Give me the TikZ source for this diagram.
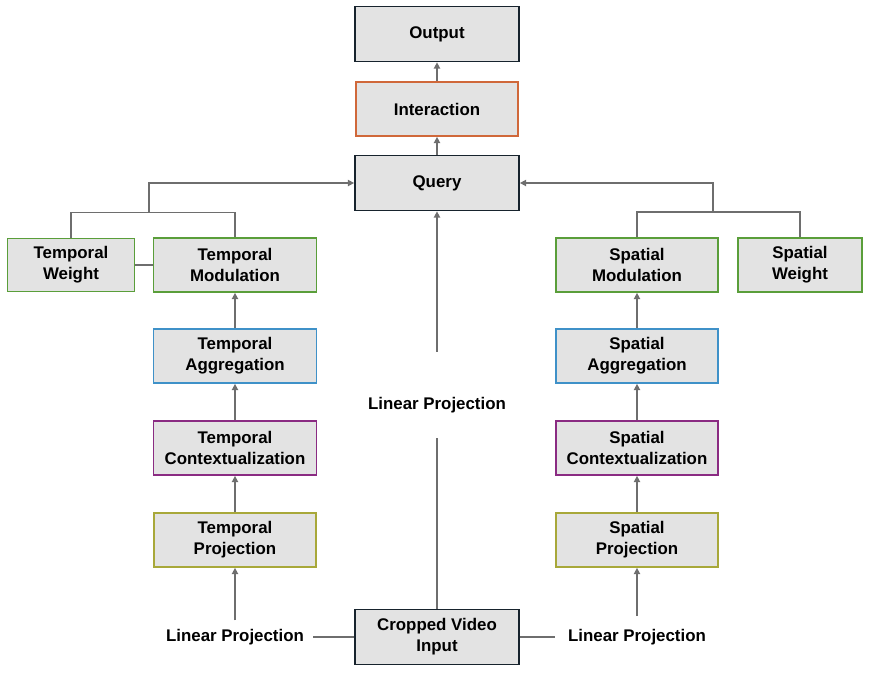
\documentclass[tikz,border=0pt]{standalone}
\usepackage{fontspec}
\setmainfont{Liberation Sans}
\usepackage{xcolor}
\definecolor{boxfill}{HTML}{E3E3E3}
\definecolor{boxdark}{HTML}{17232D}
\definecolor{boxgreen}{HTML}{5A9E3A}
\definecolor{boxblue}{HTML}{3F91C8}
\definecolor{boxpurple}{HTML}{8A2B82}
\definecolor{boxolive}{HTML}{A8A83A}
\definecolor{boxorange}{HTML}{D0683A}
\definecolor{linegray}{HTML}{6E6E6E}
\usetikzlibrary{arrows.meta,positioning}

\begin{document}
\begin{tikzpicture}[x=0.025cm,y=-0.025cm,
  block/.style={draw=boxdark, fill=boxfill, line width=1.2pt,
                minimum width=4.1cm, minimum height=1.375cm,
                align=center, font=\fontsize{12}{15}\selectfont\bfseries},
  plain/.style={font=\fontsize{12}{15}\selectfont\bfseries, inner sep=6pt},
  line/.style={draw=linegray, line width=1pt},
  conn/.style={line, -{Triangle[length=4.5pt,width=4.5pt]}}
]
  \useasboundingbox (0,0) rectangle (869,672);

  \node[block] (output) at (437,34) {Output};
  \node[block,draw=boxorange,minimum width=4.05cm,minimum height=1.35cm]
    (inter) at (437,109) {Interaction};
  \node[block] (query) at (437,183) {Query};

  % temporal branch
  \node[block,draw=boxgreen,minimum width=3.175cm,minimum height=1.33cm]
    (tw) at (71,265) {Temporal\\Weight};
  \node[block,draw=boxgreen,minimum width=4.075cm,minimum height=1.35cm]
    (tm) at (235,265) {Temporal\\Modulation};
  \node[block,draw=boxblue,minimum width=4.075cm,minimum height=1.35cm]
    (ta) at (235,356) {Temporal\\Aggregation};
  \node[block,draw=boxpurple,minimum width=4.075cm,minimum height=1.35cm]
    (tc) at (235,448) {Temporal\\Contextualization};
  \node[block,draw=boxolive,minimum width=4.05cm,minimum height=1.35cm]
    (tp) at (235,540) {Temporal\\Projection};
  \node[plain] (lpl) at (235,637) {Linear Projection};

  % spatial branch
  \node[block,draw=boxgreen,minimum width=4.05cm,minimum height=1.35cm]
    (sm) at (637,265) {Spatial\\Modulation};
  \node[block,draw=boxgreen,minimum width=3.1cm,minimum height=1.35cm]
    (sw) at (800,265) {Spatial\\Weight};
  \node[block,draw=boxblue,minimum width=4.05cm,minimum height=1.35cm]
    (sa) at (637,356) {Spatial\\Aggregation};
  \node[block,draw=boxpurple,minimum width=4.05cm,minimum height=1.35cm]
    (sc) at (637,448) {Spatial\\Contextualization};
  \node[block,draw=boxolive,minimum width=4.05cm,minimum height=1.35cm]
    (sp) at (637,540) {Spatial\\Projection};
  \node[plain,inner sep=9pt] (lpr) at (637,637) {Linear Projection};

  \node[plain,minimum height=1.65cm] (lpc) at (437,405) {Linear Projection};
  \node[block] (input) at (437,637) {Cropped Video\\Input};

  \coordinate (tjoin) at (149,212);
  \coordinate (sjoin) at (713,212);

  \draw[conn] (inter.north) -- (output.south);
  \draw[conn] (query.north) -- (inter.south);
  \draw[line] (input.north) -- (lpc.south);
  \draw[conn,shorten <=0.5cm] (lpc.north) -- (query.south);

  \draw[line] (input.west) -- (lpl.east);
  \draw[line] (input.east) -- (lpr.west);

  \draw[conn] (lpl.north) -- (tp.south);
  \draw[conn] (tp.north) -- (tc.south);
  \draw[conn] (tc.north) -- (ta.south);
  \draw[conn] (ta.north) -- (tm.south);
  \draw[line] (tw.east) -- (tm.west);
  \draw[line] (tw.north) -- ++(0,-25) -| (tm.north);
  \draw[conn] (tjoin) |- (query.west);

  \draw[conn] (lpr.north) -- (sp.south);
  \draw[conn] (sp.north) -- (sc.south);
  \draw[conn] (sc.north) -- (sa.south);
  \draw[conn] (sa.north) -- (sm.south);
  \draw[line] (sm.north) -- ++(0,-25) -| (sw.north);
  \draw[conn] (sjoin) |- (query.east);

\end{tikzpicture}
\end{document}
